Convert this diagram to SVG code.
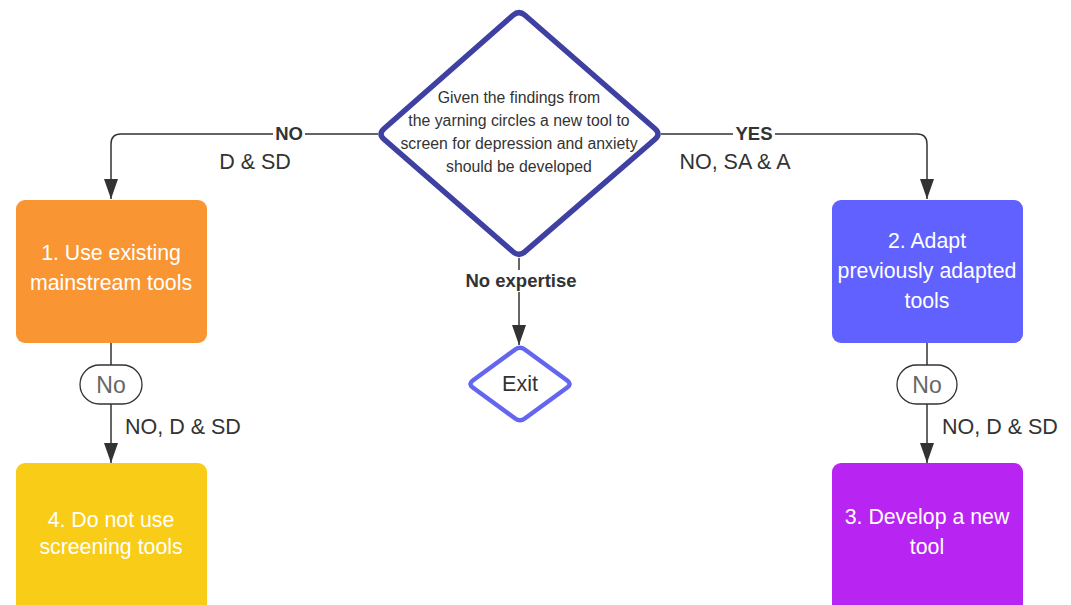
<svg xmlns="http://www.w3.org/2000/svg" width="1071" height="605" viewBox="0 0 1071 605">
<style>
text{font-family:"Liberation Sans",Arial,sans-serif;}
.dk{fill:#333333;}
.wt{fill:#ffffff;font-size:21.3px;}
.lbl{fill:#333333;font-size:21.5px;}
.bold{fill:#333333;font-size:18.5px;font-weight:bold;}
.line{fill:none;stroke:#333333;stroke-width:1.5;}
.pill{fill:#ffffff;stroke:#333333;stroke-width:1.3;}
.pilltext{fill:#666666;font-size:23px;}
</style>
<defs>
<marker id="arr" markerUnits="userSpaceOnUse" markerWidth="14" markerHeight="20" refX="7" refY="20" orient="0" viewBox="0 0 14 20">
<path d="M0,0 L14,0 L7,20 Z" fill="#333333"/>
</marker>
</defs>
<rect width="1071" height="605" fill="#ffffff"/>
<g id="connectors">
<path class="line" d="M378,134 L121,134 Q111,134 111,144 L111,199" marker-end="url(#arr)"/>
<path class="line" d="M661,134 L917,134 Q927,134 927,144 L927,199" marker-end="url(#arr)"/>
<path class="line" d="M519,258 L519,345" marker-end="url(#arr)"/>
<path class="line" d="M111,343 L111,365"/>
<path class="line" d="M111,404 L111,463" marker-end="url(#arr)"/>
<path class="line" d="M927,343 L927,365"/>
<path class="line" d="M927,404 L927,463" marker-end="url(#arr)"/>
<rect x="273" y="124" width="32" height="20" fill="#ffffff"/>
<text class="bold" x="289" y="140" text-anchor="middle">NO</text>
<rect x="733" y="124" width="42" height="20" fill="#ffffff"/>
<text class="bold" x="754" y="140" text-anchor="middle">YES</text>
<rect x="462" y="270" width="118" height="22" fill="#ffffff"/>
<text class="bold" x="521" y="287" text-anchor="middle">No expertise</text>
<text class="lbl" x="255" y="169" text-anchor="middle">D &amp; SD</text>
<text class="lbl" x="735" y="169" text-anchor="middle">NO, SA &amp; A</text>
<text class="lbl" x="125" y="434">NO, D &amp; SD</text>
<text class="lbl" x="942" y="434">NO, D &amp; SD</text>
<rect class="pill" x="80" y="365" width="62" height="39" rx="19.5"/>
<text class="pilltext" x="111" y="392.5" text-anchor="middle">No</text>
<rect class="pill" x="897" y="365" width="60" height="39" rx="19.5"/>
<text class="pilltext" x="927" y="392.5" text-anchor="middle">No</text>
</g>
<g id="decision">
<path d="M525,15.3 L655,128.7 Q661,134 655,139.3 L525,251.7 Q519,257 513,251.7 L384,139.3 Q378,134 384,128.7 L513,15.3 Q519,10 525,15.3 Z" fill="#ffffff" stroke="#3F41A2" stroke-width="5.5" stroke-linejoin="round"/>
<text class="dk" font-size="15.8" text-anchor="middle"><tspan x="519" y="103">Given the findings from</tspan><tspan x="519" y="126">the yarning circles a new tool to</tspan><tspan x="519" y="149">screen for depression and anxiety</tspan><tspan x="519" y="172">should be developed</tspan></text>
</g>
<g id="exit">
<path d="M524.8,349.5 L567.2,380.5 Q572,384 567.2,387.5 L524.8,418.5 Q520,422 515.2,418.5 L472.8,387.5 Q468,384 472.8,380.5 L515.2,349.5 Q520,346 524.8,349.5 Z" fill="#ffffff" stroke="#6466F0" stroke-width="4.5" stroke-linejoin="round"/>
<text class="lbl" x="520" y="391" text-anchor="middle">Exit</text>
</g>
<g id="node1">
<rect x="16" y="200" width="191" height="143" rx="9" fill="#F99633"/>
<text class="wt" text-anchor="middle"><tspan x="111" y="260">1. Use existing</tspan><tspan x="111" y="290">mainstream tools</tspan></text>
</g>
<g id="node2">
<rect x="832" y="200" width="191" height="143" rx="9" fill="#6161FF"/>
<text class="wt" text-anchor="middle"><tspan x="927" y="248">2. Adapt</tspan><tspan x="927" y="278">previously adapted</tspan><tspan x="927" y="308">tools</tspan></text>
</g>
<g id="node4">
<rect x="16" y="463" width="191" height="150" rx="9" fill="#F9CC17"/>
<text class="wt" text-anchor="middle"><tspan x="111" y="527">4. Do not use</tspan><tspan x="111" y="554">screening tools</tspan></text>
</g>
<g id="node3">
<rect x="832" y="463" width="191" height="150" rx="9" fill="#B824F2"/>
<text class="wt" text-anchor="middle"><tspan x="927" y="524">3. Develop a new</tspan><tspan x="927" y="554">tool</tspan></text>
</g>
</svg>
